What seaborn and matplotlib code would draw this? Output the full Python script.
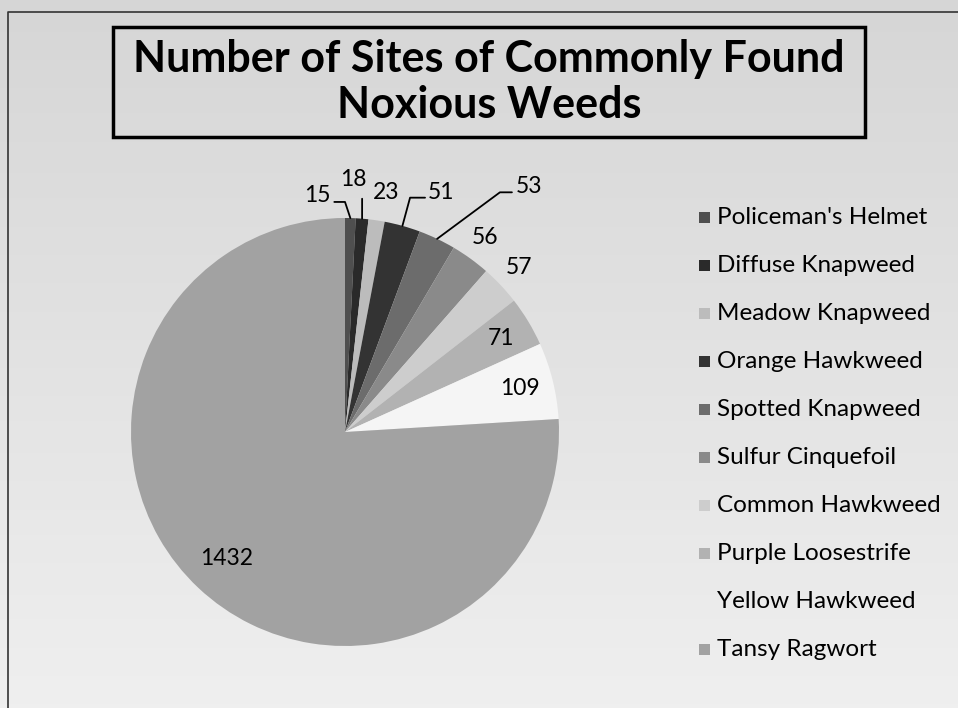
import numpy as np
import matplotlib.pyplot as plt
import seaborn as sns
from matplotlib.patches import Rectangle
from matplotlib.colors import LinearSegmentedColormap

# data
weeds = ["Policeman's Helmet", "Diffuse Knapweed", "Meadow Knapweed", "Orange Hawkweed",
         "Spotted Knapweed", "Sulfur Cinquefoil", "Common Hawkweed", "Purple Loosestrife",
         "Yellow Hawkweed", "Tansy Ragwort"]
sites = [15, 18, 23, 51, 53, 56, 57, 71, 109, 1432]
greys = ["#4f4f4f", "#2a2a2a", "#bcbcbc", "#333333", "#6c6c6c", "#8a8a8a",
         "#cdcdcd", "#b2b2b2", "#f5f5f5", "#a2a2a2"]

# label placement (in pie-radius units)
label_xy = {0: (-0.13, 1.107), 1: (0.037, 1.178), 2: (0.19, 1.117),
            3: (0.45, 1.117), 4: (0.86, 1.145)}
label_r = {5: 1.12, 6: 1.12, 7: 0.85, 8: 0.84, 9: 0.81}
leaders = {0: [(0.0, 1.075), (-0.05, 1.075)],
           1: [(0.08, 1.09)],
           3: [(0.304, 1.095), (0.374, 1.095)],
           4: [(0.724, 1.12), (0.78, 1.12)]}

sns.set_style("white")
plt.rcParams["font.family"] = ["Lato", "DejaVu Sans"]
plt.rcParams["text.color"] = "black"

fig = plt.figure(figsize=(9.58, 7.08), dpi=100)

# background, pixel coordinates
bg = fig.add_axes([0, 0, 1, 1], zorder=-5)
cmap = LinearSegmentedColormap.from_list("bg", ["#d6d6d6", "#efefef"])
bg.imshow(np.linspace(0, 1, 200).reshape(-1, 1), cmap=cmap, aspect="auto",
          extent=[0, 958, 708, 0])
bg.set_xlim(0, 958)
bg.set_ylim(708, 0)
bg.axis("off")
bg.plot([8, 8, 958], [708, 12, 12], color="#333333", lw=1.2)

# title box
bg.add_patch(Rectangle((113, 27), 752, 110, fill=False, ec="black", lw=2.5))
bg.text(489, 82, "Number of Sites of Commonly Found\nNoxious Weeds", ha="center",
        va="center", fontsize=31, fontweight="bold", linespacing=1.2)

# legend
for i, (name, col) in enumerate(zip(weeds, greys)):
    y = 217 + i * 48.1
    if col != "#f5f5f5":
        bg.add_patch(Rectangle((699, y - 5.5), 11, 11, fc=col, ec="none"))
    bg.text(717, y, name, va="center", ha="left", fontsize=17.5)

# pie
cx, cy, r = 345, 432, 214
ax = fig.add_axes([(cx - r) / 958, (708 - cy - r) / 708, 2 * r / 958, 2 * r / 708])
wedges, _ = ax.pie(sites, colors=greys, startangle=90, counterclock=False,
                   radius=1, wedgeprops=dict(linewidth=0))
ax.set_xlim(-1, 1)
ax.set_ylim(-1, 1)
ax.axis("off")

for i, (w, v) in enumerate(zip(wedges, sites)):
    mid = np.deg2rad((w.theta1 + w.theta2) / 2)
    if i in label_xy:
        lx, ly = label_xy[i]
    else:
        lx, ly = label_r[i] * np.cos(mid), label_r[i] * np.sin(mid)
    ax.text(lx, ly, str(v), ha="center", va="center", fontsize=16.5, clip_on=False)
    if i in leaders:
        pts = [(np.cos(mid), np.sin(mid))] + leaders[i]
        xs, ys = zip(*pts)
        ax.plot(xs, ys, color="black", lw=1.3, clip_on=False)

fig.savefig("out.png", dpi=100)
